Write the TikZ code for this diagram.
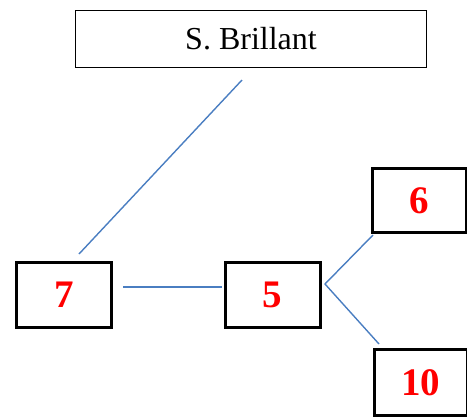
\documentclass[tikz,border=0pt]{standalone}
\usepackage{fontspec}
\setmainfont{Liberation Serif}
\definecolor{linkblue}{RGB}{74,126,193}
\begin{document}
\begin{tikzpicture}[x=1pt,y=-1pt,
  numbox/.style={draw=black,line width=3pt,minimum width=95pt,minimum height=65pt,inner sep=0pt,text=red,font=\fontsize{39}{42}\selectfont\bfseries},
  titlebox/.style={draw=black,line width=1.3pt,minimum width=351pt,minimum height=57pt,inner sep=0pt,font=\fontsize{32}{36}\selectfont},
  link/.style={draw=linkblue,line width=1.4pt}]
\useasboundingbox (0,0) rectangle (467,418);
\node[titlebox] (top) at (251,39) {S. Brillant};
\node[numbox] (n7) at (64,295) {7};
\node[numbox] (n5) at (272.5,295) {5};
\node[numbox,minimum width=94pt,minimum height=64pt] (n6) at (419.5,200.5) {6};
\node[numbox,minimum width=93pt,minimum height=66pt] (n10) at (420.5,382.5) {10};
\coordinate (a1) at (242,80);
\coordinate (a2) at (79,254);
\coordinate (b1) at (123,287);
\coordinate (b2) at (222,287);
\coordinate (c0) at (325,284);
\coordinate (c1) at (373,235);
\coordinate (c2) at (379,344);
\draw[link] (a1) -- (a2);
\draw[link] (b1) -- (b2);
\draw[link] (c1) -- (c0) -- (c2);
\end{tikzpicture}
\end{document}
